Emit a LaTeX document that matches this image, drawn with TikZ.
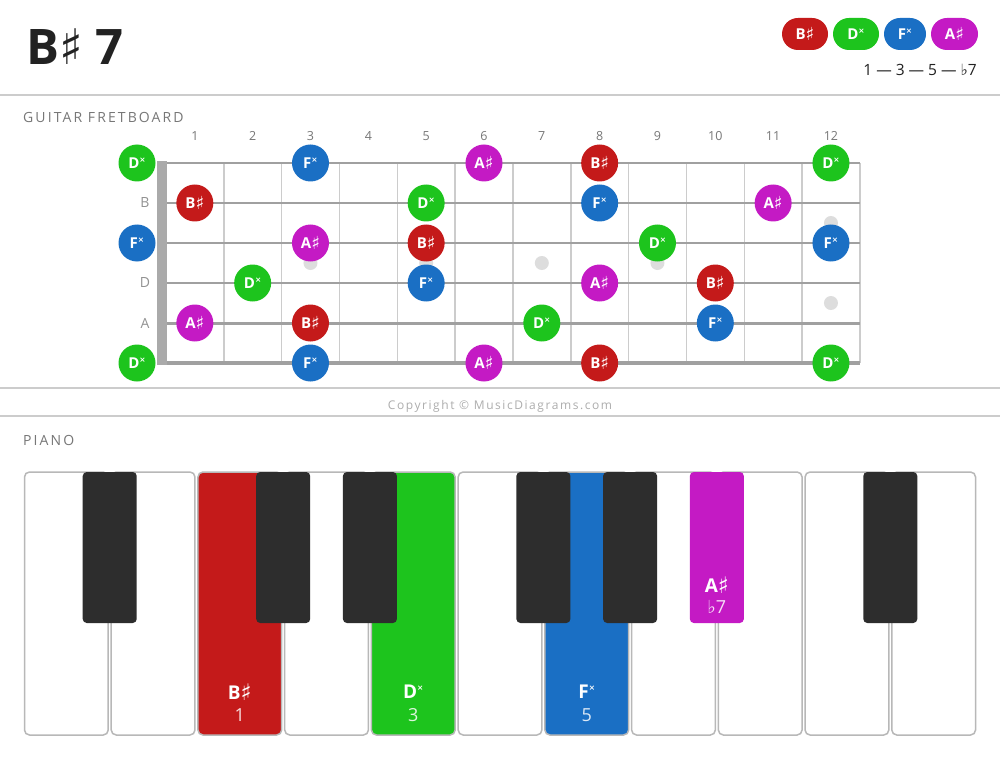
\documentclass[tikz,border=0pt]{standalone}
\usepackage{graphicx}
\usepackage{fontspec}
\setmainfont{Open Sans}
\newfontfamily\sym{DejaVu Sans}
\newfontfamily\harva[LetterSpace=15]{Open Sans}
\newfontfamily\pieni[LetterSpace=13]{Open Sans}
\definecolor{puna}{HTML}{C41A1A}
\definecolor{vihrea}{HTML}{1DC41D}
\definecolor{sini}{HTML}{1A6FC4}
\definecolor{viol}{HTML}{C41AC4}
\definecolor{musta}{HTML}{2D2D2D}
\definecolor{teksti}{HTML}{222222}
\definecolor{otsake}{HTML}{777777}
\definecolor{kieli}{HTML}{A0A0A0}
\definecolor{naha}{HTML}{CCCCCC}
\definecolor{pallo}{HTML}{DDDDDD}
\newcommand\ris{\raisebox{-.04em}{\scalebox{1.2}{\sym ♯}}}
\newcommand\tris{\raisebox{.42em}{\fontsize{7.5}{7.5}\selectfont\sym\bfseries ×}}
\newcommand\alen{{\sym ♭}}
\begin{document}
\begin{tikzpicture}[x=1pt,y=-1pt]
\useasboundingbox (0,0) rectangle (1000,759);
\fill[white] (0,0) rectangle (1000,759);
\newcommand\nuotti[5]{
\node[circle,fill=#4,text=white,minimum size=37pt,inner sep=0pt,font=\fontsize{15}{15}\selectfont\bfseries] (#1) at ({137+57.83*#3},#2) {#5};
}
\newcommand\pilleri[5]{
\node[fill=#4,text=white,rounded corners=16pt,minimum width=#3pt,minimum height=32pt,inner sep=0pt,font=\fontsize{15}{15}\selectfont\bfseries] (#1) at (#2,34) {#5};
}
\newcommand\kosketin[5]{
\node[text=white,font=\fontsize{19}{19}\selectfont\bfseries] (#1n) at ({23+86.73*(#2+0.5)},692) {#4};
\node[text=white!85!#3,font=\fontsize{18}{18}\selectfont] (#1a) at ({23+86.73*(#2+0.5)},715) {#5};
}
\node[anchor=base west,inner sep=0pt,text=teksti,font=\fontsize{49}{54}\selectfont\bfseries] (otsikko) at (26,65) {B{\mdseries\sym ♯} 7};
\pilleri{l1}{805}{46}{puna}{B\ris}
\pilleri{l2}{856}{46}{vihrea}{D\tris}
\pilleri{l3}{905}{42}{sini}{F\tris}
\pilleri{l4}{954.5}{47}{viol}{A\ris}
\node[anchor=base east,inner sep=0pt,text=teksti,font=\fontsize{15.5}{16}\selectfont] (asteet) at (977,76) {1 — 3 — 5 — \alen7};
\draw[line width=2.5pt,naha] (0,95) -- (1000,95);
\node[anchor=base west,inner sep=0pt,text=otsake,font=\harva\fontsize{14}{14}\selectfont] (kitara) at (23,123) {GUITAR FRETBOARD};
\foreach \n in {1,...,12}
  \node[text=otsake,font=\fontsize{12.5}{13}\selectfont] (f\n) at ({137+57.83*\n},136) {\n};
\node[text=otsake!80,font=\fontsize{14}{14}\selectfont] (sB) at (145,203) {B};
\node[text=otsake!80,font=\fontsize{14}{14}\selectfont] (sD) at (145,283) {D};
\node[text=otsake!80,font=\fontsize{14}{14}\selectfont] (sA) at (145,323) {A};
\foreach \n in {1,...,12}
  \draw[line width=1.5pt,naha] ({166+57.83*\n},163) -- ({166+57.83*\n},363);
\foreach \x/\y in {3/263,5/263,7/263,9/263,12/223,12/303}
  \fill[pallo] ({137+57.83*\x},\y) circle (7pt);
\foreach \y/\w in {163/2.4,203/2.5,243/2.6,283/2.8,323/3,363/3.4}
  \draw[line width=\w pt,kieli] (157,\y) -- (860,\y);
\fill[kieli!90] (157,161) rectangle (167,365);
\nuotti{e0}{163}{0}{vihrea}{D\tris}
\nuotti{e3}{163}{3}{sini}{F\tris}
\nuotti{e6}{163}{6}{viol}{A\ris}
\nuotti{e8}{163}{8}{puna}{B\ris}
\nuotti{e12}{163}{12}{vihrea}{D\tris}
\nuotti{b1}{203}{1}{puna}{B\ris}
\nuotti{b5}{203}{5}{vihrea}{D\tris}
\nuotti{b8}{203}{8}{sini}{F\tris}
\nuotti{b11}{203}{11}{viol}{A\ris}
\nuotti{g0}{243}{0}{sini}{F\tris}
\nuotti{g3}{243}{3}{viol}{A\ris}
\nuotti{g5}{243}{5}{puna}{B\ris}
\nuotti{g9}{243}{9}{vihrea}{D\tris}
\nuotti{g12}{243}{12}{sini}{F\tris}
\nuotti{d2}{283}{2}{vihrea}{D\tris}
\nuotti{d5}{283}{5}{sini}{F\tris}
\nuotti{d8}{283}{8}{viol}{A\ris}
\nuotti{d10}{283}{10}{puna}{B\ris}
\nuotti{a1}{323}{1}{viol}{A\ris}
\nuotti{a3}{323}{3}{puna}{B\ris}
\nuotti{a7}{323}{7}{vihrea}{D\tris}
\nuotti{a10}{323}{10}{sini}{F\tris}
\nuotti{E0}{363}{0}{vihrea}{D\tris}
\nuotti{E3}{363}{3}{sini}{F\tris}
\nuotti{E6}{363}{6}{viol}{A\ris}
\nuotti{E8}{363}{8}{puna}{B\ris}
\nuotti{E12}{363}{12}{vihrea}{D\tris}
\draw[line width=2pt,naha] (0,388) -- (1000,388);
\node[text=otsake!60,font=\pieni\fontsize{12}{12}\selectfont] (copy) at (500,406) {Copyright © MusicDiagrams.com};
\draw[line width=2pt,naha] (0,416) -- (1000,416);
\node[anchor=base west,inner sep=0pt,text=otsake,font=\harva\fontsize{14}{14}\selectfont] (piano) at (23,445) {PIANO};
\foreach \i/\v in {0/white,1/white,2/puna,3/white,4/vihrea,5/white,6/sini,7/white,8/white,9/white,10/white}
  \draw[fill=\v,draw=naha!90!black,line width=1.5pt,rounded corners=5pt] ({23+86.73*\i+1.5},472) rectangle ({23+86.73*(\i+1)-1.5},735);
\foreach \j/\v in {1/musta,3/musta,4/musta,6/musta,7/musta,8/viol,10/musta}
  \fill[\v,rounded corners=4pt] ({23+86.73*\j-27},472) rectangle ({23+86.73*\j+27},623);
\kosketin{c}{2}{puna}{B\ris}{1}
\kosketin{e}{4}{vihrea}{D\tris}{3}
\kosketin{g}{6}{sini}{F\tris}{5}
\node[text=white,font=\fontsize{19}{19}\selectfont\bfseries] (ais) at ({23+86.73*8},585) {A\ris};
\node[text=white!85!viol,font=\fontsize{18}{18}\selectfont] (aisa) at ({23+86.73*8},607) {\alen7};
\end{tikzpicture}
\end{document}
